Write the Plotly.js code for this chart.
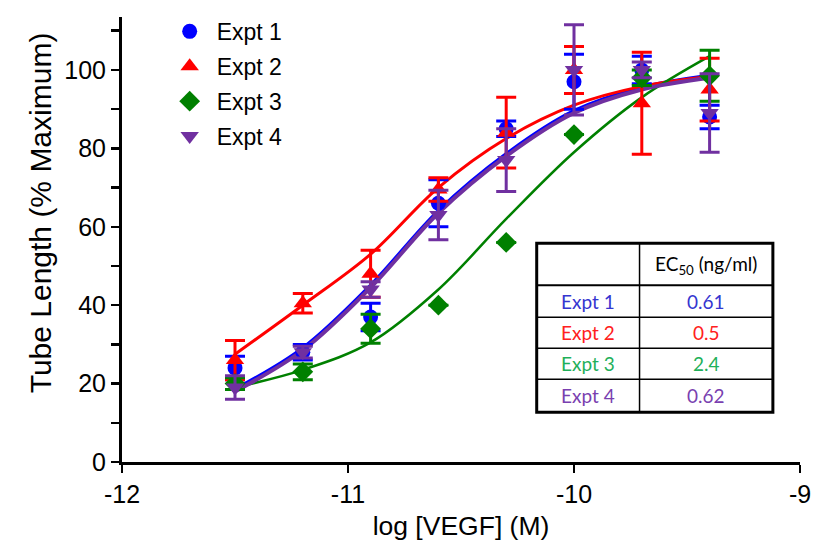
<!DOCTYPE html>
<html>
<head>
<meta charset="utf-8">
<script src="https://cdn.plot.ly/plotly-3.0.1.min.js"></script>
<style>
html,body{margin:0;padding:0;background:#fff;}
#chart{width:823px;height:545px;}
</style>
</head>
<body>
<div id="chart"></div>
<script>
// log [VEGF] (M)
var logConc = [-11.5, -11.2, -10.9, -10.6, -10.3, -10.0, -9.7, -9.4];

// Means and SEM (% maximum)
var expt1 = [24, 28, 37, 66, 85, 97, 100, 88];
var expt1Err = [3, 2, 3.5, 6, 2, 7, 3.5, 3];
var expt2 = [26, 40.5, 48, 69.5, 84, 100, 91.5, 95];
var expt2Err = [5, 2.5, 6, 3, 9, 6, 13, 8];
var expt3 = [20, 23, 34, 40, 56, 83.5, 98, 98.5];
var expt3Err = [1.5, 2, 3.7, 0, 0, 0, 2, 6.5];
var expt4 = [19, 28, 44, 63, 77, 100, 100, 89];
var expt4Err = [3, 1.5, 2, 6.3, 8, 11.5, 2, 10];

// Fitted curves
var curve1 = [18.5, 29, 45, 64, 78.5, 89.5, 95.5, 98.5];
var curve2 = [27.5, 40, 53, 70, 82.5, 91, 95.8, 98.3];
var curve3 = [19, 23.5, 30.5, 44, 62, 79, 93, 103.5];
var curve4 = [18, 28.5, 44.5, 63.5, 78, 89, 95, 98];

var names = ['Expt 1', 'Expt 2', 'Expt 3', 'Expt 4'];
var ec50 = ['0.61', '0.5', '2.4', '0.62'];

var colors = ['#0000ff', '#ff0000', '#008000', '#7030a0'];
var tableColors = ['#3535d0', '#ff2020', '#1fb05a', '#7a3fb0'];
var symbols = ['circle', 'triangle-up', 'diamond', 'triangle-down'];
var lineWidths = [4, 3, 2.5, 4];
var means = [expt1, expt2, expt3, expt4];
var errs = [expt1Err, expt2Err, expt3Err, expt4Err];
var curves = [curve1, curve2, curve3, curve4];

var traces = [];
for (var i = 0; i < 4; i++) {
  traces.push({
    x: logConc, y: curves[i], type: 'scatter', mode: 'lines',
    line: {color: colors[i], width: lineWidths[i], shape: 'spline', smoothing: 1},
    showlegend: false, hoverinfo: 'skip', cliponaxis: false
  });
}
for (var j = 0; j < 4; j++) {
  traces.push({
    x: logConc, y: means[j], type: 'scatter', mode: 'markers', name: names[j],
    legendgroup: 'g' + j,
    marker: {color: colors[j], symbol: symbols[j], size: j === 0 ? 15 : 16},
    error_y: {type: 'data', array: errs[j], visible: true, color: colors[j], thickness: 3, width: 10},
    cliponaxis: false
  });
}

// table geometry (data coordinates)
var tL = -10.165, tR = -9.12, tM = -9.71;
var tTop = 55.8, tBot = 12.7;
var rowLines = [45.1, 36.9, 29.0, 21.1];
var rowCenters = [41.0, 33.1, 25.1, 16.9];
var headerY = 50.3;
var col1X = -9.938, col2X = -9.415;

var shapes = [{type: 'rect', xref: 'x', yref: 'y', x0: tL, x1: tR, y0: tBot, y1: tTop,
  line: {color: '#000', width: 3}, fillcolor: '#fff', layer: 'above'}];
shapes.push({type: 'line', xref: 'x', yref: 'y', x0: tM, x1: tM, y0: tBot, y1: tTop, line: {color: '#000', width: 1.5}, layer: 'above'});
for (var k = 0; k < rowLines.length; k++) {
  shapes.push({type: 'line', xref: 'x', yref: 'y', x0: tL, x1: tR, y0: rowLines[k], y1: rowLines[k],
    line: {color: '#000', width: k === 0 ? 2 : 1.5}, layer: 'above'});
}

var tFont = 'Lato, Carlito, sans-serif';
var annotations = [{xref: 'x', yref: 'y', x: col2X, y: headerY, text: 'EC<sub>50</sub> (ng/ml)', showarrow: false,
  font: {family: tFont, size: 19, color: '#000'}}];
for (var m = 0; m < 4; m++) {
  annotations.push({xref: 'x', yref: 'y', x: col1X, y: rowCenters[m], text: names[m], showarrow: false,
    font: {family: tFont, size: 19, color: tableColors[m]}});
  annotations.push({xref: 'x', yref: 'y', x: col2X, y: rowCenters[m], text: ec50[m], showarrow: false,
    font: {family: tFont, size: 19, color: tableColors[m]}});
}
// y-axis title (placed as in the reference, slightly above centre)
annotations.push({xref: 'paper', yref: 'paper', x: -0.121, y: 0.561, xanchor: 'center', yanchor: 'middle',
  text: 'Tube Length (% Maximum)', textangle: -90, showarrow: false,
  font: {family: '"Liberation Sans", Arial, sans-serif', size: 30, color: '#000'}});

var layout = {
  width: 823, height: 545,
  margin: {l: 122, r: 23, t: 17, b: 83, autoexpand: false},
  paper_bgcolor: '#fff', plot_bgcolor: '#fff',
  font: {family: '"Liberation Sans", Arial, sans-serif', color: '#000'},
  showlegend: true,
  legend: {x: 0.06, y: 1.016, xanchor: 'left', yanchor: 'top', traceorder: 'grouped', tracegroupgap: 2,
    font: {size: 23, color: '#000'}, bgcolor: 'rgba(0,0,0,0)', itemwidth: 44},
  xaxis: {
    range: [-12, -9], tickvals: [-12, -11, -10, -9], ticktext: ['-12', '-11', '-10', '-9'],
    ticks: 'outside', ticklen: 8, tickwidth: 2.5, tickcolor: '#000',
    showline: true, linecolor: '#000', linewidth: 3, showgrid: false, zeroline: false,
    tickfont: {size: 25},
    title: {text: 'log [VEGF] (M)', font: {size: 26.5}, standoff: 10}
  },
  yaxis: {
    range: [0, 113.5], tickvals: [0, 20, 40, 60, 80, 100],
    ticks: 'outside', ticklen: 8, tickwidth: 2.5, tickcolor: '#000',
    minor: {tickvals: [10, 30, 50, 70, 90, 110], ticks: 'outside', ticklen: 8, tickwidth: 2.5, tickcolor: '#000'},
    showline: true, linecolor: '#000', linewidth: 3, showgrid: false, zeroline: false,
    tickfont: {size: 25}
  },
  shapes: shapes,
  annotations: annotations
};

Plotly.newPlot('chart', traces, layout, {displayModeBar: false, staticPlot: true});
</script>
</body>
</html>
